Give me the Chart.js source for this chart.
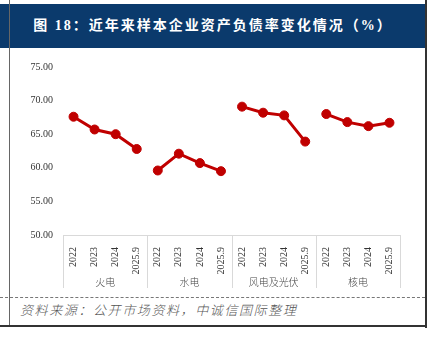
<!DOCTYPE html>
<html>
<head>
<meta charset="utf-8">
<script src="https://cdn.jsdelivr.net/npm/chart.js@4.4.1/dist/chart.umd.min.js"></script>
<style>
  html, body { margin: 0; padding: 0; background: #fff; }
  body { width: 429px; height: 343px; position: relative; overflow: hidden; }
  .title-bar {
    position: absolute; left: 0; top: 4px; width: 426px; height: 44px;
    background: #0b3a6c; color: #fff;
    font: bold 14px "Liberation Serif", "Noto Sans CJK SC", serif;
    letter-spacing: 2px; text-align: center; line-height: 44px;
  }
  .frame-left { position: absolute; left: 9px; top: 0; width: 1px; height: 327px; background: #666; }
  .frame-right { position: absolute; left: 425px; top: 0; width: 2px; height: 328px; background: #333; }
  .frame-bottom { position: absolute; left: 0; top: 325px; width: 427px; height: 2px; background: #333; }
  .dash { position: absolute; left: 0; top: 297px; width: 425px; border-top: 1px dashed #777; }
  .source {
    position: absolute; left: 20px; top: 301px;
    font: italic 300 13px "Noto Sans CJK SC", sans-serif; color: #555;
    letter-spacing: 1.6px; line-height: 18px;
  }
  #wrap { position: absolute; left: 10px; top: 48px; width: 415px; height: 248px; }
</style>
</head>
<body>
<div class="title-bar">图 18：近年来样本企业资产负债率变化情况（%）</div>
<div id="wrap"><canvas id="chart"></canvas></div>
<div class="dash"></div>
<div class="source">资料来源：公开市场资料，中诚信国际整理</div>
<div class="frame-left"></div>
<div class="frame-right"></div>
<div class="frame-bottom"></div>
<script>
// periods inside every group, and the groups themselves
const years = ['2022', '2023', '2024', '2025.9'];
const groups = ['火电', '水电', '风电及光伏', '核电'];

// debt-to-asset ratio (%) per group
const thermal = [67.6, 65.7, 65.0, 62.8];
const hydro = [59.6, 62.1, 60.7, 59.5];
const windSolar = [69.1, 68.2, 67.8, 63.9];
const nuclear = [68.0, 66.8, 66.2, 66.7];

const yTicks = [50, 55, 60, 65, 70, 75];

const series = [thermal, hydro, windSolar, nuclear];
const labels = [];
groups.forEach(() => years.forEach(y => labels.push(y)));

// one dataset per group so the line breaks between groups
const datasets = series.map((vals, g) => {
  const data = labels.map(() => null);
  vals.forEach((v, i) => { data[g * years.length + i] = v; });
  return {
    label: groups[g],
    data: data,
    borderColor: '#c00000',
    backgroundColor: '#c00000',
    borderWidth: 3,
    pointRadius: 4.5,
    pointBorderWidth: 1,
    pointBackgroundColor: '#c00000',
    pointBorderColor: '#c00000',
    spanGaps: false,
    tension: 0
  };
});

// separators and group names under the year ticks
const groupAxis = {
  id: 'groupAxis',
  afterDraw(chart) {
    const x = chart.scales.x;
    const ctx = chart.ctx;
    const top = chart.chartArea.bottom;
    const half = (x.getPixelForValue(1) - x.getPixelForValue(0)) / 2;
    ctx.save();
    ctx.strokeStyle = '#d9d9d9';
    ctx.lineWidth = 1;
    for (let g = 0; g <= groups.length; g++) {
      const px = Math.round(x.getPixelForValue(g * years.length) - half) + 0.5;
      ctx.beginPath();
      ctx.moveTo(px, top);
      ctx.lineTo(px, top + 53);
      ctx.stroke();
    }
    ctx.fillStyle = '#444';
    ctx.font = '300 10px "Noto Sans CJK SC", sans-serif';
    ctx.textAlign = 'center';
    ctx.textBaseline = 'middle';
    groups.forEach((name, g) => {
      const a = x.getPixelForValue(g * years.length);
      const b = x.getPixelForValue(g * years.length + years.length - 1);
      ctx.fillText(name, (a + b) / 2, top + 47);
    });
    ctx.restore();
  }
};

new Chart(document.getElementById('chart'), {
  type: 'line',
  data: { labels: labels, datasets: datasets },
  options: {
    responsive: true,
    maintainAspectRatio: false,
    animation: false,
    layout: { padding: { top: 19, right: 25, left: 0, bottom: 0 } },
    plugins: { legend: { display: false }, tooltip: { enabled: false } },
    scales: {
      x: {
        type: 'category',
        offset: true,
        grid: { display: false },
        border: { display: true, color: '#d9d9d9', width: 1 },
        ticks: {
          autoSkip: false,
          minRotation: 90,
          maxRotation: 90,
          padding: 4,
          color: '#333',
          font: { family: '"Liberation Serif", serif', size: 10 }
        },
        afterFit(scale) { scale.height = 61; }
      },
      y: {
        min: 50,
        max: 75,
        afterBuildTicks(scale) { scale.ticks = yTicks.map(v => ({ value: v })); },
        grid: { display: false, drawTicks: false },
        border: { display: false },
        ticks: {
          padding: 10,
          color: '#333',
          font: { family: '"Liberation Serif", serif', size: 10 },
          callback: v => Number(v).toFixed(2)
        },
        afterFit(scale) { scale.width = 53; }
      }
    }
  },
  plugins: [groupAxis]
});
</script>
</body>
</html>
